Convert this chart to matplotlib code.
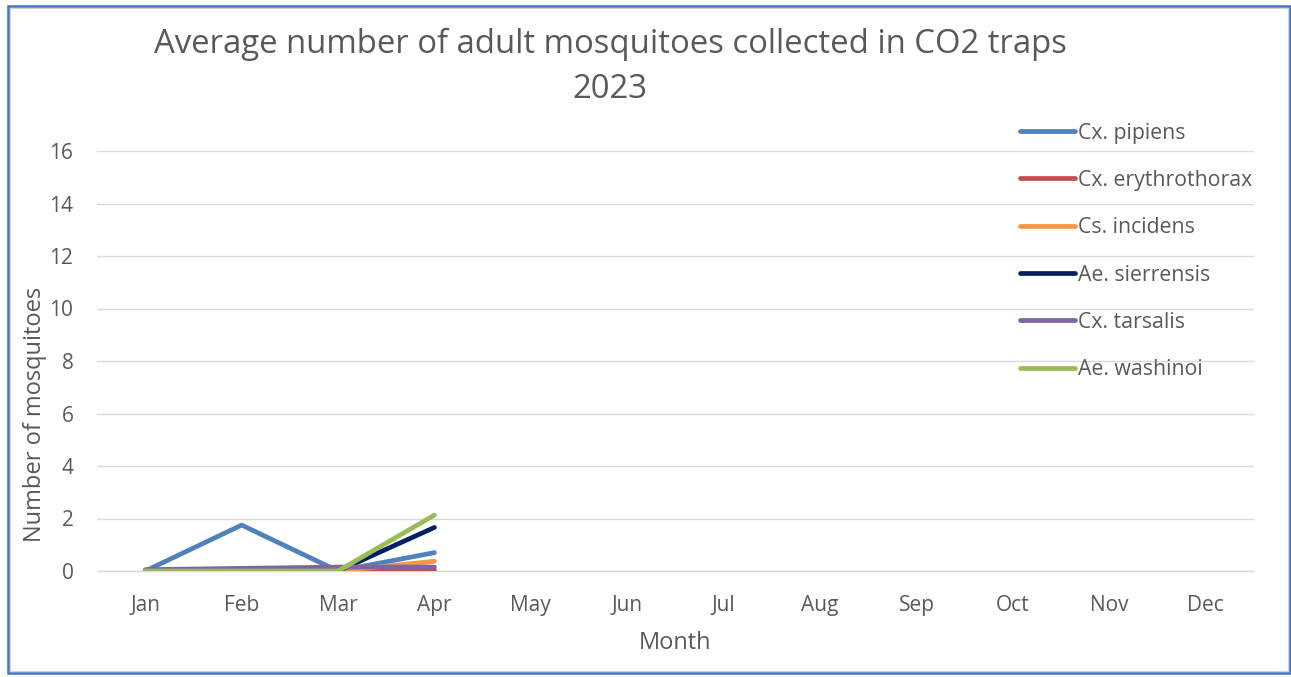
import matplotlib
matplotlib.use("Agg")
import matplotlib.pyplot as plt
from matplotlib.patches import Rectangle

months = ["Jan", "Feb", "Mar", "Apr", "May", "Jun", "Jul", "Aug", "Sep", "Oct", "Nov", "Dec"]
species = ["Cx. pipiens", "Cx. erythrothorax", "Cs. incidens", "Ae. sierrensis", "Cx. tarsalis", "Ae. washinoi"]
cx_pipiens = [0.0, 1.75, 0.0, 0.70]
cx_erythrothorax = [0.0, 0.0, 0.0, 0.05]
cs_incidens = [0.0, 0.0, 0.0, 0.37]
ae_sierrensis = [0.0, 0.0, 0.0, 1.66]
cx_tarsalis = [0.05, 0.10, 0.15, 0.15]
ae_washinoi = [0.0, 0.0, 0.0, 2.13]
colors = ["#4F81BD", "#C0504D", "#F79646", "#002060", "#8064A2", "#9BBB59"]
y_ticks = [0, 2, 4, 6, 8, 10, 12, 14, 16]

plt.rcParams["font.family"] = ["Open Sans", "DejaVu Sans"]
text_color = "#595959"

fig = plt.figure(figsize=(12.91, 6.77), dpi=100)
W, H = 1291, 677

# outer chart border
fig.patches.append(Rectangle((8 / W, 4 / H), 1282 / W, 667 / H, transform=fig.transFigure,
                             fill=False, edgecolor="#4472C4", linewidth=1.8))
fig.patches.append(Rectangle((10 / W, 6 / H), 1278 / W, 663 / H, transform=fig.transFigure,
                             fill=False, edgecolor="#D0D0D0", linewidth=0.8))

left, right = 97 / W, 1254 / W
bottom, top = 1 - 571 / H, 1 - 151 / H
ax = fig.add_axes([left, bottom, right - left, top - bottom])

series = [cx_pipiens, cx_erythrothorax, cs_incidens, ae_sierrensis, cx_tarsalis, ae_washinoi]
x = list(range(len(months)))
for name, vals, c in zip(species, series, colors):
    ax.plot(x[:len(vals)], vals, color=c, linewidth=3.4, solid_capstyle="round",
            solid_joinstyle="round", label=name, zorder=3)

ax.set_xlim(-0.5, 11.5)
ax.set_ylim(0, 16)
ax.set_yticks(y_ticks)
ax.set_xticks(x)
ax.set_xticklabels(months)
ax.grid(axis="y", color="#D9D9D9", linewidth=1.0)
ax.set_axisbelow(True)
for s in ["top", "right", "left"]:
    ax.spines[s].set_visible(False)
ax.spines["bottom"].set_color("#D9D9D9")
ax.spines["bottom"].set_linewidth(1.0)
ax.spines["bottom"].set_zorder(1)
ax.tick_params(axis="both", length=0, labelsize=15, colors=text_color)
ax.tick_params(axis="y", pad=17)
ax.tick_params(axis="x", pad=17)

fig.text(35 / W, 1 - 414 / H, "Number of mosquitoes", rotation=90, ha="center", va="center",
         fontsize=17, color=text_color)
fig.text(675 / W, 1 - 643 / H, "Month", ha="center", va="center", fontsize=17, color=text_color)

fig.text(610 / W, 1 - 44 / H, "Average number of adult mosquitoes collected in CO2 traps",
         ha="center", va="center", fontsize=23.7, color=text_color)
fig.text(610 / W, 1 - 90 / H, "2023", ha="center", va="center", fontsize=23.7, color=text_color)

leg = fig.legend(loc="upper left", bbox_to_anchor=(1011.5 / W, 1 - 114 / H), frameon=False,
                 fontsize=15.3, labelcolor=text_color, handlelength=2.6, handletextpad=0.15,
                 labelspacing=1.24, borderaxespad=0)
for h in leg.get_lines():
    h.set_linewidth(3.4)

fig.savefig("out.png", dpi=100)
